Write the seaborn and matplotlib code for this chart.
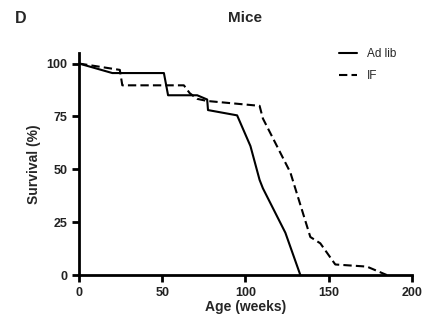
import numpy as np
import pandas as pd
import matplotlib
matplotlib.use("Agg")
import matplotlib.pyplot as plt
import seaborn as sns

sns.set_style("ticks", {"axes.edgecolor": "black", "xtick.color": "black", "ytick.color": "black"})
plt.rcParams['font.family'] = ['Liberation Sans', 'DejaVu Sans']

# survival curves
adlib_age = [0, 20, 51, 53.5, 71, 77, 77.5, 95, 103, 108.5, 110.5, 124, 133]
adlib_surv = [100, 95.5, 95.5, 85, 85, 83, 78, 75.5, 61, 45, 41, 20, 0]
if_age = [0, 24.5, 26, 63, 66.5, 71, 77, 108.5, 110.5, 127, 139, 145, 154, 173, 185]
if_surv = [100, 97, 89.7, 89.7, 86, 83.3, 82.3, 80, 74, 48.5, 18, 15, 5, 4, 0]

df = pd.concat([
    pd.DataFrame({"age": adlib_age, "surv": adlib_surv, "group": "Ad lib"}),
    pd.DataFrame({"age": if_age, "surv": if_surv, "group": "IF"}),
])

fig = plt.figure(figsize=(4.25, 3.31), dpi=100)
ax = fig.add_axes([0.186, 0.169, 0.783, 0.671])

sns.lineplot(data=df, x="age", y="surv", style="group", color="black",
             dashes={"Ad lib": "", "IF": (4, 2)}, estimator=None, sort=False,
             linewidth=1.5, ax=ax)

ax.set_xlim(0, 200)
ax.set_ylim(0, 105)
ax.set_xticks([0, 50, 100, 150, 200])
ax.set_yticks([0, 25, 50, 75, 100])
sns.despine(ax=ax)
for s in ["left", "bottom"]:
    ax.spines[s].set_linewidth(2)
ax.tick_params(width=2, length=5, labelsize=9, labelcolor="#222222")
for lab in ax.get_xticklabels() + ax.get_yticklabels():
    lab.set_fontweight("bold")

ax.set_xlabel("Age (weeks)", fontsize=10, fontweight="bold", labelpad=1)
ax.set_ylabel("Survival (%)", fontsize=10, fontweight="bold", labelpad=4)
ax.set_title("Mice", fontsize=11, fontweight="bold", pad=22)
fig.text(0.035, 0.945, "D", fontsize=11.5, fontweight="bold", va="center")

leg = ax.legend(title=None, frameon=False, fontsize=8.5, handlelength=1.6,
                loc="upper right", bbox_to_anchor=(0.985, 1.07), labelspacing=0.85)

fig.savefig("out.png", dpi=100)
